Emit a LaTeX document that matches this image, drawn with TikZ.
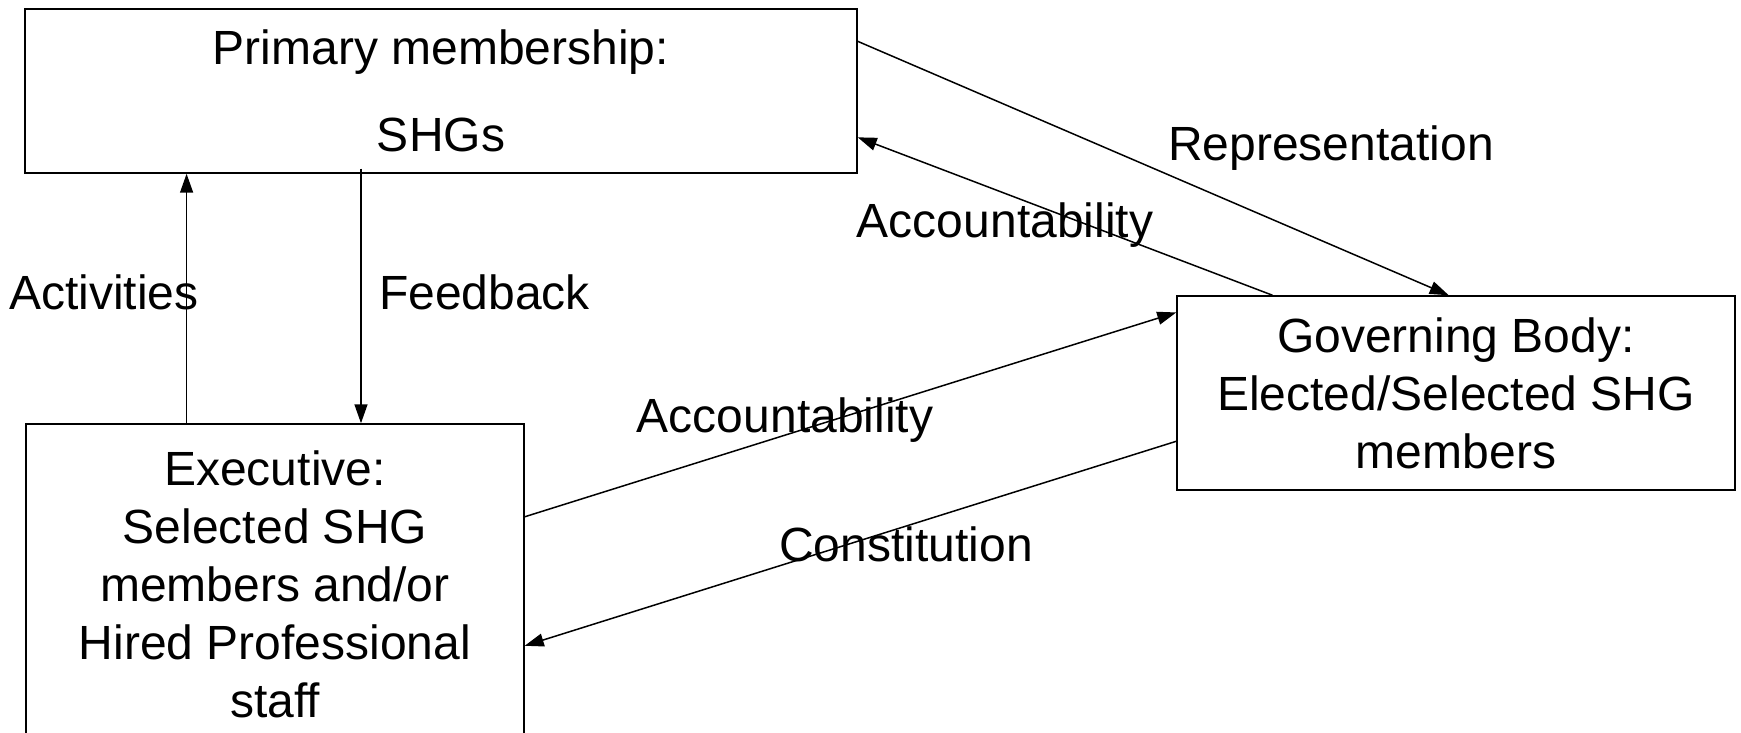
\documentclass[tikz,border=0pt]{standalone}
\usepackage{fontspec}
\setmainfont{Liberation Sans}
\usetikzlibrary{arrows.meta,calc}

\tikzset{
  orgbox/.style={draw,line width=1.5pt,align=center,inner sep=0pt},
  flow/.style={line width=1.5pt,-{Triangle[length=19pt,width=13pt]}},
  flowlabel/.style={inner sep=0pt}
}

\begin{document}
\begin{tikzpicture}[x=1pt,y=-1pt,font=\fontsize{48}{58}\selectfont]
  \useasboundingbox[fill=white] (0,0) rectangle (1741,733);

  % Boxes
  \node[orgbox,minimum width=832pt,minimum height=164pt] (prim) at (441,91)
    {Primary membership:\\[29pt]SHGs};
  \node[orgbox,minimum width=498pt,minimum height=321pt] (exec) at (275,584.5)
    {Executive:\\Selected SHG\\members and/or\\Hired Professional\\staff};
  \node[orgbox,minimum width=558pt,minimum height=194pt] (gov) at (1456,393)
    {Governing Body:\\Elected/Selected SHG\\members};

  % Vertical links
  \coordinate (actfoot) at ($(exec.north west)!0.323!(exec.north east)$);
  \coordinate (feedtop) at ($(prim.south west)!0.404!(prim.south east)$);
  \draw[flow] (actfoot) -- (actfoot |- prim.south);
  \draw[flow] ([yshift=5pt]feedtop) -- (feedtop |- exec.north);

  % Diagonal links
  \draw[flow] ($(prim.north east)!0.2!(prim.south east)$) -- ($(gov.north west)!0.487!(gov.north east)$);
  \draw[flow] ($(gov.north west)!0.172!(gov.north east)$) -- ($(prim.north east)!0.78!(prim.south east)$);
  \draw[flow] ($(exec.north east)!0.29!(exec.south east)$) -- ($(gov.north west)!0.088!(gov.south west)$);
  \draw[flow] ($(gov.north west)!0.747!(gov.south west)$) -- ($(exec.north east)!0.69!(exec.south east)$);

  % Labels
  \node[flowlabel] (lact) at (104,292) {Activities};
  \node[flowlabel,anchor=west] (lfeed) at (379,292) {Feedback};
  \node[flowlabel] (lrep) at (1331,148) {Representation};
  \node[flowlabel] (lacc1) at (1005,225) {Accountability};
  \node[flowlabel] (lacc2) at (785,420) {Accountability};
  \node[flowlabel] (lcon) at (906,544) {Constitution};
\end{tikzpicture}
\end{document}
